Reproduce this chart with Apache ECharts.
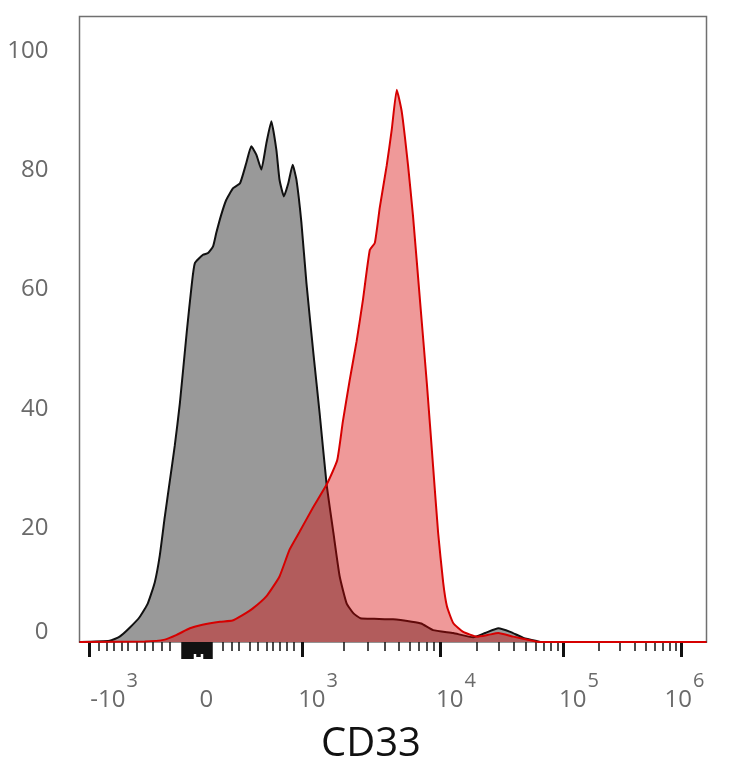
<!DOCTYPE html>
<html>
<head>
<meta charset="utf-8">
<title>CD33</title>
<script src="https://cdn.jsdelivr.net/npm/echarts@6/dist/echarts.min.js"></script>
<style>
  html, body { margin: 0; padding: 0; background: #fff; }
  #chart { width: 734px; height: 768px; }
</style>
</head>
<body>
<div id="chart"></div>
<script>
// histogram bins on the display channel scale (0 - 1000), y = % of mode
const isotypeChannels = [0, 48, 64, 80, 96, 109, 120, 128, 136, 144,
  152, 160, 171, 179, 184, 197, 205, 213, 218, 226,
  234, 245, 256, 266, 274, 282, 290, 298, 306, 314,
  319, 326, 333, 340, 346, 354, 362, 373, 383, 394,
  405, 415, 426, 437, 448, 470, 500, 530, 545, 564,
  596, 628, 647, 668, 687, 708, 730, 738, 1000];
const isotypeCounts = [0, 0.2, 0.9, 2.4, 4.2, 6.5, 10, 14.5, 21, 27,
  33, 40, 52, 60, 63.6, 65.0, 65.3, 66.4, 68.6, 71.7,
  74.2, 76.2, 77.0, 80.4, 83.2, 81.8, 79.3, 83.7, 87.4, 82.6,
  77.6, 74.8, 77.0, 80.1, 77.6, 70.3, 60.2, 48.5, 38.4, 26.6,
  18.3, 11.0, 6.5, 4.8, 4.0, 3.9, 3.8, 3.4, 3.1, 2.0,
  1.5, 0.8, 1.5, 2.3, 1.7, 0.7, 0.15, 0, 0];

const cd33Channels = [0, 104, 136, 155, 176, 196, 224, 244, 260, 276,
  299, 319, 335, 351, 372, 395, 411, 420, 431, 442,
  452, 463, 471, 479, 490, 498, 506, 514, 524, 532,
  543, 554, 564, 572, 580, 586, 596, 612, 634, 652,
  668, 692, 719, 735, 1000];
const cd33Counts = [0, 0.1, 0.4, 1.2, 2.3, 2.9, 3.4, 3.6, 4.5, 5.6,
  7.8, 11, 15.5, 18.5, 22.5, 26.6, 30.5, 37, 44, 50.5,
  57.4, 65.8, 67, 73, 80, 86, 92.7, 89, 80, 71.4,
  57.4, 43.4, 29.4, 18.3, 10, 6, 3.2, 1.7, 0.9, 1.2,
  1.5, 0.9, 0.3, 0, 0];

// biexponential axis: where each decade sits on the channel scale
const majorTickChannels = [16, 201, 355, 575, 771, 960];
const majorTickLabels = ['-10^3', '0', '10^3', '10^4', '10^5', '10^6'];
// left spacer (px) so each label starts near its tick like the original
const labelSpacers = [49, 8, 32, 32, 32, 6];
// linear-region minor ticks around zero
const linearMinorChannels = [30, 43, 54, 67, 77, 91, 104, 117, 131, 144,
  228, 243, 254, 271, 284, 299, 308, 319, 331, 342];
const yTickValues = [0, 20, 40, 60, 80, 100];

const FONT = 'Open Sans';
const LABEL_GREY = '#6a6a6a';

// log-spaced minor ticks inside each positive decade
const decadeMinorChannels = [];
for (let d = 2; d < majorTickChannels.length - 1; d++) {
  const a = majorTickChannels[d];
  const b = majorTickChannels[d + 1];
  for (let k = 2; k <= 9; k++) {
    decadeMinorChannels.push(a + (b - a) * Math.log10(k));
  }
}

// the crowded block of ticks just left of zero
const denseShort = [];
const denseTall = [];
const denseMid = [];
for (let c = 162.5; c <= 211.5; c += 0.8) {
  denseShort.push(c);
  if (c <= 181 || c >= 197) denseTall.push(c);
  if (c >= 186 && c <= 191.6) denseMid.push(c);
}

function tickAxis(values, length, width) {
  return {
    type: 'value',
    min: 0,
    max: 1000,
    position: 'bottom',
    axisLine: { show: false },
    splitLine: { show: false },
    axisLabel: { show: false },
    axisTick: {
      show: true,
      customValues: values,
      length: length,
      lineStyle: { color: '#111', width: width }
    }
  };
}

// "10^3" -> rich text with a raised exponent
function formatMajor(value) {
  const idx = majorTickChannels.indexOf(value);
  if (idx < 0) return '';
  const parts = majorTickLabels[idx].split('^');
  let txt = labelSpacers[idx] ? '{s' + labelSpacers[idx] + '| }' : '';
  txt += '{b|' + parts[0] + '}';
  txt += parts[1] ? '{e|' + parts[1] + '}' : '{e| }';
  return txt;
}

const richLabel = {
  b: { fontSize: 24, fontFamily: FONT, color: LABEL_GREY, lineHeight: 26 },
  // bottom padding lifts the exponent above the base
  e: {
    fontSize: 20, fontFamily: FONT, color: LABEL_GREY,
    lineHeight: 20, padding: [0, 0, 38, 1]
  }
};
labelSpacers.forEach(s => {
  if (s) richLabel['s' + s] = { width: s, lineHeight: 20 };
});

const chart = echarts.init(document.getElementById('chart'));

const option = {
  animation: false,
  backgroundColor: '#fff',
  title: {
    text: 'CD33',
    left: 321,
    top: 725,
    padding: 0,
    textStyle: { fontSize: 40, fontWeight: 'normal', fontFamily: FONT, color: '#111' }
  },
  grid: {
    left: 79.5,
    right: 27.5,
    top: 16.5,
    bottom: 126,
    show: true,
    borderColor: '#707070',
    borderWidth: 1.5,
    outerBoundsMode: 'none'
  },
  xAxis: [
    {
      type: 'value',
      min: 0,
      max: 1000,
      position: 'bottom',
      axisLine: { show: false },
      splitLine: { show: false },
      axisTick: {
        show: true,
        customValues: majorTickChannels,
        length: 15,
        lineStyle: { color: '#111', width: 3 }
      },
      axisLabel: {
        show: true,
        customValues: majorTickChannels,
        margin: 45,
        align: 'center',
        formatter: formatMajor,
        rich: richLabel
      }
    },
    tickAxis(linearMinorChannels.concat(decadeMinorChannels), 9, 1.5),
    tickAxis(denseShort, 12, 1.5),
    tickAxis(denseTall, 17, 1.5),
    tickAxis(denseMid, 15, 1.5)
  ],
  yAxis: {
    type: 'value',
    min: 0,
    max: 105,
    interval: 20,
    axisLine: { show: false },
    axisTick: { show: false },
    splitLine: { show: false },
    axisLabel: {
      customValues: yTickValues,
      margin: 31,
      formatter: v => (v === 0 ? '{z|0}' : '{n|' + v + '}'),
      rich: {
        n: { fontSize: 24, fontFamily: FONT, color: LABEL_GREY, padding: [10, 0, 0, 0] },
        z: { fontSize: 24, fontFamily: FONT, color: LABEL_GREY, padding: [0, 0, 20, 0] }
      }
    }
  },
  series: [
    {
      name: 'Isotype',
      type: 'line',
      showSymbol: false,
      smooth: 0.15,
      data: isotypeChannels.map((c, i) => [c, isotypeCounts[i]]),
      lineStyle: { color: '#111', width: 2 },
      areaStyle: { color: '#999', opacity: 1 },
      z: 2
    },
    {
      name: 'CD33',
      type: 'line',
      showSymbol: false,
      smooth: 0.15,
      data: cd33Channels.map((c, i) => [c, cd33Counts[i]]),
      lineStyle: { color: '#d60000', width: 2 },
      areaStyle: { color: 'rgba(214,0,0,0.4)', opacity: 1 },
      z: 3
    }
  ]
};

chart.setOption(option);
</script>
</body>
</html>
